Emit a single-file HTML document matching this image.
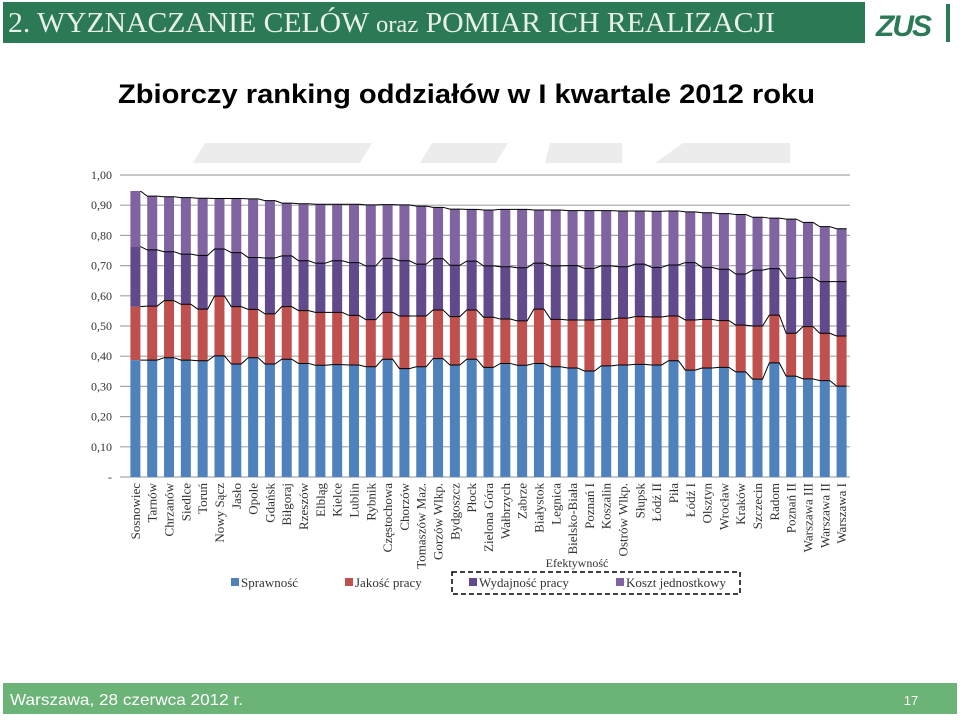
<!DOCTYPE html>
<html><head><meta charset="utf-8">
<style>
body{margin:0;width:960px;height:716px;overflow:hidden;background:#fff;font-family:"Liberation Sans",sans-serif}
</style></head>
<body>
<svg width="960" height="716" viewBox="0 0 960 716" xmlns="http://www.w3.org/2000/svg">
<rect x="3" y="2" width="862" height="41" fill="#2b7a55"/>
<text x="8" y="32" font-family="Liberation Serif,serif" font-size="29" fill="#e8f0ea" textLength="767" lengthAdjust="spacingAndGlyphs">2. WYZNACZANIE CELÓW <tspan font-size="24">oraz</tspan> POMIAR ICH REALIZACJI</text>
<g>
<text x="876" y="36" font-family="Liberation Sans,sans-serif" font-weight="bold" font-style="italic" font-size="30" fill="#2b7a55" letter-spacing="-2">ZUS</text>
<rect x="946" y="4" width="4" height="38" fill="#2b7a55"/>
</g>
<text x="118" y="103" font-size="27" font-weight="bold" fill="#000" textLength="697" lengthAdjust="spacingAndGlyphs">Zbiorczy ranking oddziałów w I kwartale 2012 roku</text>
<g fill="#ececec">
<polygon points="205,143 372,143 360,163 193,163"/><polygon points="432,143 508,143 496,163 420,163"/><polygon points="550,143 622,143 622,163 545,163"/><polygon points="683,143 790,143 790,163 655,163"/>
</g>
<g id="chart"></g>
<g>
<text x="577" y="567" text-anchor="middle" font-family="Liberation Serif,serif" font-size="12" fill="#333">Efektywność</text>
<rect x="452" y="572" width="288" height="22" fill="none" stroke="#000" stroke-width="1.5" stroke-dasharray="5,3"/>
<g><rect x="231" y="578" width="8" height="8" fill="#4f81bd"/><text x="241" y="587" font-family="Liberation Serif,serif" font-size="13" fill="#333">Sprawność</text></g>
<g><rect x="345" y="578" width="8" height="8" fill="#c0504d"/><text x="355" y="587" font-family="Liberation Serif,serif" font-size="13" fill="#333">Jakość pracy</text></g>
<g><rect x="469" y="578" width="8" height="8" fill="#604a8b"/><text x="479" y="587" font-family="Liberation Serif,serif" font-size="13" fill="#333">Wydajność pracy</text></g>
<g><rect x="616" y="578" width="8" height="8" fill="#8064a2"/><text x="626" y="587" font-family="Liberation Serif,serif" font-size="13" fill="#333">Koszt jednostkowy</text></g>
</g>
<rect x="3" y="683" width="954" height="31" fill="#6cb378"/>
<text x="10" y="705" font-size="16" fill="#fff" textLength="233" lengthAdjust="spacingAndGlyphs">Warszawa,  28 czerwca 2012 r.</text>
<text x="911" y="705" text-anchor="middle" font-size="13" fill="#fff">17</text>
</svg>
<script>
const categories=["Sosnowiec","Tarnów","Chrzanów","Siedlce","Toruń","Nowy Sącz","Jasło","Opole","Gdańsk","Biłgoraj","Rzeszów","Elbląg","Kielce","Lublin","Rybnik","Częstochowa","Chorzów","Tomaszów Maz.","Gorzów Wlkp.","Bydgoszcz","Płock","Zielona Góra","Wałbrzych","Zabrze","Białystok","Legnica","Bielsko-Biała","Poznań I","Koszalin","Ostrów Wlkp.","Słupsk","Łódź II","Piła","Łódź I","Olsztyn","Wrocław","Kraków","Szczecin","Radom","Poznań II","Warszawa III","Warszawa II","Warszawa I"];
const sprawnosc=[.387,.387,.395,.387,.385,.401,.374,.395,.374,.390,.376,.370,.372,.371,.365,.390,.359,.365,.392,.371,.390,.363,.376,.370,.376,.365,.361,.351,.368,.371,.373,.371,.385,.354,.361,.363,.348,.324,.378,.334,.325,.319,.301];
const jakosc=[.177,.179,.189,.185,.171,.198,.190,.160,.166,.174,.175,.175,.173,.164,.156,.155,.174,.168,.161,.160,.163,.166,.147,.147,.180,.157,.159,.169,.154,.155,.158,.159,.148,.166,.161,.155,.155,.176,.158,.142,.173,.157,.166];
const wydajnosc=[.199,.186,.162,.166,.178,.156,.179,.172,.185,.168,.165,.163,.171,.175,.178,.179,.183,.172,.170,.170,.162,.170,.173,.176,.152,.177,.180,.171,.177,.170,.174,.164,.169,.190,.172,.170,.169,.185,.154,.182,.163,.171,.180];
const koszt=[.184,.178,.182,.187,.189,.167,.179,.194,.190,.175,.189,.195,.187,.193,.202,.178,.185,.192,.170,.186,.171,.185,.190,.193,.176,.185,.182,.191,.183,.185,.176,.186,.179,.168,.181,.184,.197,.175,.167,.196,.182,.182,.175];
const yTicks=[0,.1,.2,.3,.4,.5,.6,.7,.8,.9,1];
const yTickLabels=["-","0,10","0,20","0,30","0,40","0,50","0,60","0,70","0,80","0,90","1,00"];

const NS="http://www.w3.org/2000/svg";
const g=document.getElementById('chart');
const X0=127,X1=850,Y0=477,PX=302;
const step=(X1-X0)/categories.length, bw=10;
const y=v=>Y0-v*PX;
const xc=i=>X0+step*(i+0.5);
function mk(t,a,p){const e=document.createElementNS(NS,t);for(const k in a)e.setAttribute(k,a[k]);(p||g).appendChild(e);return e;}
yTicks.forEach((v,i)=>{
  const l=mk('line',{x1:120,x2:X1,y1:y(v),y2:y(v),stroke:'#a6a6a6','stroke-width':1.2});
  
  
  const t=mk('text',{x:112,y:y(v)+4,'text-anchor':'end','font-family':'Liberation Serif,serif','font-size':12,fill:'#333'});
  t.textContent=yTickLabels[i];
  
  
});
const series=[sprawnosc,jakosc,wydajnosc,koszt];
const colors=['#4f81bd','#c0504d','#604a8b','#8064a2'];
const names=['sprawnosc','jakosc','wydajnosc','koszt'];
const tops=[[],[],[],[]];
categories.forEach((c,i)=>{
  let acc=0;
  series.forEach((s,k)=>{
    const b=acc;acc+=s[i];tops[k].push(acc);
    const r=mk('rect',{x:xc(i)-bw/2,y:y(acc),width:bw,height:y(b)-y(acc),fill:colors[k]});
    
    
  });
  const t=mk('text',{transform:`translate(${xc(i)+4.5},483) rotate(-90)`,'text-anchor':'end','font-family':'Liberation Serif,serif','font-size':13,fill:'#333'});
  t.textContent=c;
  
  
});
tops.forEach((tp,k)=>{
  let pts=[];
  tp.forEach((v,i)=>{pts.push((xc(i)+bw/2)+','+y(v));if(i<tp.length-1)pts.push((xc(i+1)-bw/2)+','+y(tp[i+1]));});
  const p=mk('polyline',{points:pts.join(' '),fill:'none',stroke:'#000','stroke-width':1});
  
  
});
</script>
</body></html>
